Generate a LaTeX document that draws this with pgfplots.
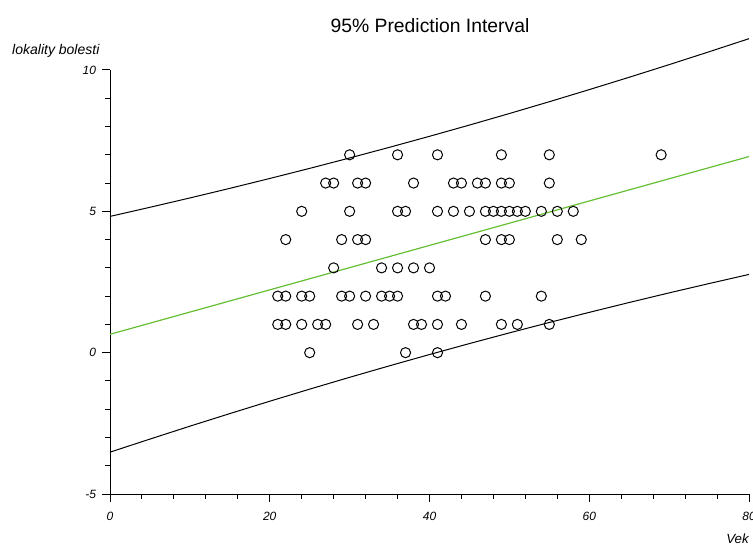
\documentclass[border=0pt]{standalone}
\usepackage{fontspec}
\setmainfont{Liberation Sans}
\usepackage{pgfplots}
\pgfplotsset{compat=1.18}
\usepackage{pgfplotstable}
\definecolor{fitgreen}{RGB}{102,190,51}

\pgfplotstableread{
x y
30 7
36 7
41 7
49 7
55 7
69 7
27 6
28 6
31 6
32 6
38 6
43 6
44 6
46 6
47 6
49 6
50 6
55 6
24 5
30 5
36 5
37 5
41 5
43 5
45 5
47 5
48 5
49 5
50 5
51 5
52 5
54 5
56 5
58 5
22 4
29 4
31 4
32 4
47 4
49 4
50 4
56 4
59 4
28 3
34 3
36 3
38 3
40 3
21 2
22 2
24 2
25 2
29 2
30 2
32 2
34 2
35 2
36 2
41 2
42 2
47 2
54 2
21 1
22 1
24 1
26 1
27 1
31 1
33 1
38 1
39 1
41 1
44 1
49 1
51 1
55 1
25 0
37 0
41 0
}\scatterdata

\pgfplotstableread{
x y
0 0.650
80 6.938
}\fitline

\pgfplotstableread{
x y
0 4.820
5 5.143
10 5.473
15 5.813
20 6.162
25 6.520
30 6.888
35 7.266
40 7.654
45 8.052
50 8.460
55 8.878
60 9.306
65 9.743
70 10.189
75 10.645
80 11.108
}\upperband

\pgfplotstableread{
x y
0 -3.520
5 -3.057
10 -2.601
15 -2.155
20 -1.718
25 -1.290
30 -0.872
35 -0.464
40 -0.066
45 0.322
50 0.700
55 1.068
60 1.426
65 1.775
70 2.115
75 2.445
80 2.768
}\lowerband

\begin{document}
\begin{tikzpicture}
\useasboundingbox (0,0) rectangle (564.75pt,410.25pt);
\begin{axis}[
  at={(82.5pt,39.75pt)}, anchor=south west,
  scale only axis, width=479.25pt, height=318pt,
  xmin=0, xmax=80, ymin=-5, ymax=10,
  clip=false,
  axis x line=bottom, axis y line=left,
  axis line style={-, line width=0.75pt, black},
  xtick={0,20,40,60,80}, ytick={-5,0,5,10},
  minor x tick num=4, minor y tick num=4,
  xtick align=outside, ytick align=outside,
  major tick length=6pt, minor tick length=3.75pt,
  tick style={black, line width=0.75pt},
  /pgf/number format/assume math mode=true,
  ticklabel style={font=\itshape\fontsize{9}{10}\selectfont},
  xticklabel style={anchor=north, yshift=-4pt},
  yticklabel style={anchor=east, xshift=-1pt},
  title={95\% Prediction Interval},
  every axis title/.style={at={(axis description cs:0.5008,1.0896)}, anchor=base, inner sep=0pt, font=\fontsize{14.5}{17}\selectfont},
  xlabel={Vek},
  every axis x label/.style={at={(axis description cs:1,-0.1179)}, anchor=base east, inner sep=0pt, font=\itshape\fontsize{10}{12}\selectfont},
  ylabel={lokality bolesti},
  every axis y label/.style={at={(axis description cs:-0.1534,1.0354)}, anchor=base west, inner sep=0pt, font=\itshape\fontsize{10.5}{12}\selectfont},
]
\addplot[black, line width=0.75pt] table[x=x,y=y] {\upperband};
\addplot[black, line width=0.75pt] table[x=x,y=y] {\lowerband};
\addplot[fitgreen, line width=0.9pt] table[x=x,y=y] {\fitline};
\addplot[only marks, mark=o, mark size=3.8pt, mark options={line width=0.75pt, black}] table[x=x,y=y] {\scatterdata};
\end{axis}
\end{tikzpicture}
\end{document}
